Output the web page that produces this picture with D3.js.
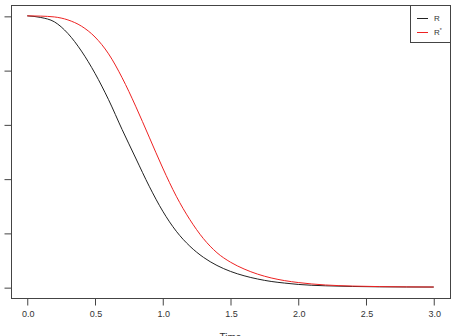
<!DOCTYPE html>
<html>
<head>
<meta charset="utf-8">
<script src="https://cdn.jsdelivr.net/npm/d3@7"></script>
<style>
    body { margin: 0; background: #fff; }
    svg { display: block; font-family: "Liberation Sans", Arial, sans-serif; }
</style>
</head>
<body>
<svg width="454" height="336"></svg>
<script>
// time grid
const times = [0, 0.1, 0.2, 0.3, 0.4, 0.5, 0.6, 0.7, 0.8, 0.9, 1.0, 1.1, 1.2, 1.3, 1.4, 1.5,
    1.6, 1.7, 1.8, 1.9, 2.0, 2.2, 2.4, 2.6, 2.8, 3.0];
// black curve R
const rValues = [1.0, 0.994, 0.978, 0.935, 0.870, 0.788, 0.691, 0.581, 0.476, 0.372, 0.280, 0.206,
    0.151, 0.110, 0.080, 0.058, 0.042, 0.030, 0.021, 0.015, 0.010, 0.005, 0.0025, 0.0012, 0.0006, 0.0003];
// red curve R*
const rStarValues = [1.0, 0.999, 0.996, 0.985, 0.962, 0.922, 0.860, 0.772, 0.667, 0.553, 0.439, 0.335,
    0.249, 0.179, 0.127, 0.092, 0.067, 0.048, 0.034, 0.024, 0.017, 0.008, 0.004, 0.002, 0.001, 0.0005];
const xTicks = [0, 0.5, 1.0, 1.5, 2.0, 2.5, 3.0];
const yTicks = [0, 0.2, 0.4, 0.6, 0.8, 1.0];
const legendLabels = ["R", "R*"];

const svg = d3.select('svg');

// plot box (R style: 4% padding inside the box)
const box = { left: 11, right: 450, top: 5, bottom: 298 };

let xScale = d3.scaleLinear()
    .domain([-0.12, 3.12])
    .range([box.left, box.right]);

let yScale = d3.scaleLinear()
    .domain([-0.04, 1.04])
    .range([box.bottom, box.top]);

const axisColor = '#444';

// box
svg.append('rect')
    .attr('x', box.left + 0.5)
    .attr('y', box.top + 0.5)
    .attr('width', box.right - box.left)
    .attr('height', box.bottom - box.top)
    .attr('fill', 'none')
    .attr('stroke', axisColor)
    .attr('stroke-width', 1);

// x axis
let xAxis = d3.axisBottom(xScale)
    .tickValues(xTicks)
    .tickSize(7)
    .tickPadding(5)
    .tickFormat(d3.format('.1f'));
let xG = svg.append('g')
    .attr('transform', `translate(0.5, ${box.bottom + 0.5})`)
    .call(xAxis);
xG.select('.domain')
    .attr('d', `M${xScale(0)},0H${xScale(3)}`)
    .attr('stroke', axisColor);
xG.selectAll('.tick line').attr('stroke', axisColor).attr('transform', 'translate(-0.5,0)');
xG.selectAll('.tick text')
    .attr('fill', '#333')
    .style('font-size', '9px')
    .style('font-family', '"Liberation Sans", Arial, sans-serif');

// y axis, labels fall outside the picture
let yAxis = d3.axisLeft(yScale)
    .tickValues(yTicks)
    .tickSize(7)
    .tickFormat('');
let yG = svg.append('g')
    .attr('transform', `translate(${box.left + 0.5}, 0.5)`)
    .call(yAxis);
yG.select('.domain').remove();
yG.selectAll('.tick line').attr('stroke', axisColor);

// x label, mostly below the picture like the reference
svg.append('text')
    .attr('x', (box.left + box.right) / 2)
    .attr('y', 341)
    .attr('text-anchor', 'middle')
    .attr('fill', '#333')
    .style('font-size', '10px')
    .text('Time');

// curves
const line = d3.line()
    .x((d, i) => xScale(times[i]))
    .y(d => yScale(d))
    .curve(d3.curveMonotoneX);

svg.append('path')
    .datum(rValues)
    .attr('d', line)
    .attr('fill', 'none')
    .attr('stroke', '#222')
    .attr('stroke-width', 1);

svg.append('path')
    .datum(rStarValues)
    .attr('d', line)
    .attr('fill', 'none')
    .attr('stroke', '#ee2222')
    .attr('stroke-width', 1);

// legend
const legend = svg.append('g');
legend.append('rect')
    .attr('x', 410.5)
    .attr('y', box.top + 0.5)
    .attr('width', box.right - 410)
    .attr('height', 37)
    .attr('fill', 'white')
    .attr('stroke', axisColor);

const legendColors = ['#222', '#ee2222'];
legendLabels.forEach((lab, i) => {
    const ly = 18 + i * 14;
    legend.append('line')
        .attr('x1', 417).attr('x2', 428)
        .attr('y1', ly + 0.5).attr('y2', ly + 0.5)
        .attr('stroke', legendColors[i]);
    const t = legend.append('text')
        .attr('x', 434)
        .attr('y', ly + 3)
        .attr('fill', '#333')
        .style('font-size', '8px')
        .text('R');
    if (lab === 'R*') {
        t.append('tspan')
            .attr('dy', -3)
            .style('font-size', '5px')
            .text('*');
    }
});
</script>
</body>
</html>
